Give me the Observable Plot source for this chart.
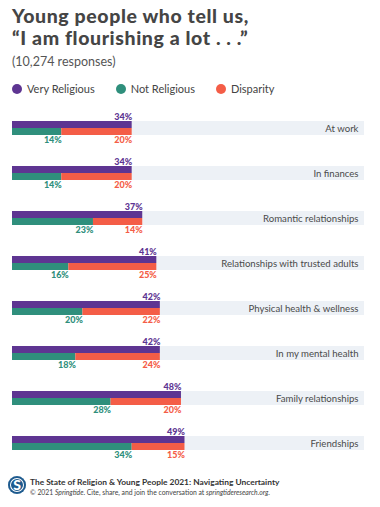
<!DOCTYPE html>
<html><head><meta charset="utf-8">
<script src="https://cdn.jsdelivr.net/npm/d3@7"></script>
<script src="https://cdn.jsdelivr.net/npm/@observablehq/plot@0.6"></script>
<style>
body{margin:0;background:#fff;font-family:Lato,"Open Sans",sans-serif;}
#wrap{width:380px;}
#head{height:100px;position:relative;}
#title{position:absolute;left:12px;top:5px;font-weight:900;font-size:19.5px;line-height:22px;color:#454545;letter-spacing:0.6px;}
#sub{position:absolute;left:12px;top:54px;font-size:12.5px;color:#555;}
#legend{position:absolute;left:12px;top:82px;font-size:11px;color:#444;display:flex;}
.li{display:flex;align-items:center;margin-right:21px;}
.dot{width:10px;height:10px;border-radius:50%;margin-right:5px;}
#foot{position:relative;height:39px;}
#logo{position:absolute;left:8px;top:8px;width:18px;height:18px;border-radius:50%;background:#1d5a8e;color:#fff;font-weight:900;font-size:14px;line-height:18px;text-align:center;box-shadow:inset 0 0 0 2px #1d5a8e, inset 0 0 0 3px #fff;}
#f1{position:absolute;left:30px;top:9px;font-size:8.4px;font-weight:700;color:#333;white-space:nowrap;}
#f2{position:absolute;left:30px;top:20px;font-size:6.8px;color:#444;white-space:nowrap;}
svg{display:block;}
</style></head>
<body><div id="wrap">
<div id="head">
<div id="title">Young people who tell us,<br>“I am flourishing a lot . . .”</div>
<div id="sub">(10,274 responses)</div>
<div id="legend"></div>
</div>
<div id="chart"></div>
<div id="foot"><div id="logo">S</div>
<div id="f1">The State of Religion &amp; Young People 2021: Navigating Uncertainty</div>
<div id="f2">© 2021 <i>Springtide</i>. Cite, share, and join the conversation at <i>springtideresearch.org</i>.</div>
</div>
</div>
<script>
const categories = ["At work","In finances","Romantic relationships","Relationships with trusted adults","Physical health & wellness","In my mental health","Family relationships","Friendships"];
const veryReligious = [34,34,37,41,42,42,48,49];
const notReligious = [14,14,23,16,20,18,28,34];
const disparity = [20,20,14,25,22,24,20,15];
const seriesNames = ["Very Religious","Not Religious","Disparity"];
const colors = ["#5e3592","#2f8f7c","#f45d47"];
const strip = "#edf1f6";

const legend = document.getElementById("legend");
seriesNames.forEach((n,i)=>{
  const d=document.createElement("div");d.className="li";
  d.innerHTML=`<span class="dot" style="background:${colors[i]}"></span>${n}`;
  legend.appendChild(d);
});

const data = categories.map((c,i)=>({cat:c, vr:veryReligious[i], nr:notReligious[i], dis:disparity[i]}));
const half = 7;
const chart = Plot.plot({
  width:380, height:368,
  marginLeft:12, marginRight:16, marginTop:8, marginBottom:6,
  x:{domain:[0,100], axis:null},
  y:{domain:categories, axis:null, paddingInner:0.7, paddingOuter:0.2},
  style:{fontFamily:"Lato, 'Open Sans', sans-serif"},
  marks:[
    Plot.barX(data,{y:"cat", x1:0, x2:100, fill:strip}),
    Plot.barX(data,{y:"cat", x1:0, x2:"vr", fill:colors[0], insetBottom:half}),
    Plot.barX(data,{y:"cat", x1:0, x2:"nr", fill:colors[1], insetTop:half}),
    Plot.barX(data,{y:"cat", x1:"nr", x2:d=>d.nr+d.dis, fill:colors[2], insetTop:half}),
    Plot.text(data,{y:"cat", x:100, text:"cat", textAnchor:"end", dx:-6, fontSize:9.6, fill:"#4a4a4a"}),
    Plot.text(data,{y:"cat", x:"vr", text:d=>d.vr+"%", textAnchor:"end", dy:-11, fontSize:9, fontWeight:900, fill:colors[0]}),
    Plot.text(data,{y:"cat", x:"nr", text:d=>d.nr+"%", textAnchor:"end", dy:12, fontSize:9, fontWeight:900, fill:colors[1]}),
    Plot.text(data,{y:"cat", x:d=>d.nr+d.dis, text:d=>d.dis+"%", textAnchor:"end", dy:12, fontSize:9, fontWeight:900, fill:colors[2]})
  ]
});
document.getElementById("chart").appendChild(chart);
</script>
</body></html>
